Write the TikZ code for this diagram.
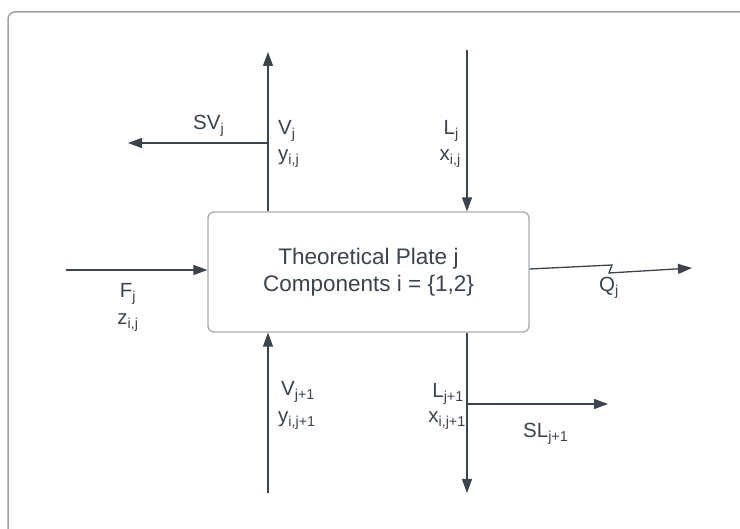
\documentclass[tikz,border=0pt]{standalone}
\usepackage{fontspec}
\setmainfont{Liberation Sans}
\usetikzlibrary{arrows.meta, positioning}
\definecolor{inkgray}{HTML}{3C434B}
\definecolor{boxgray}{HTML}{A9ADB2}
\definecolor{framegray}{HTML}{9EA2A6}

\begin{document}
\begin{tikzpicture}[
    x=1pt, y=-1pt,
    >={Triangle[length=14pt, width=10pt]},
    plate/.style = {rectangle, draw=boxgray, line width=1.3pt, rounded corners=6pt, minimum width=321pt, minimum height=120pt, align=center, text=inkgray, font=\fontsize{22.5}{27}\selectfont},
    lbl/.style = {text=inkgray, font=\fontsize{20.5}{24}\selectfont, inner sep=0pt},
    stream/.style = {draw=inkgray, ->, line width=1.3pt}
]
    \useasboundingbox (0,0) rectangle (740,529);
    \begin{scope}
        \clip (0,0) rectangle (740,529);
        \draw [framegray, line width=1.5pt, rounded corners=7pt] (8,12) rectangle (760,560);
    \end{scope}
    \node [plate] (plate) at (368.5,272) {Theoretical Plate j\\Components i = \{1,2\}};
    \coordinate (vjtop) at (268,52);
    \coordinate (vjtee) at (268,143);
    \coordinate (svend) at (128,143);
    \coordinate (ljtop) at (467,50);
    \coordinate (fin) at (66,270);
    \coordinate (qzigup) at (612,265);
    \coordinate (qzigdown) at (609,273);
    \coordinate (qout) at (692,268);
    \coordinate (vbot) at (268,493);
    \coordinate (lbot) at (467,493);
    \coordinate (sltee) at (467,404);
    \coordinate (slend) at (608,404);
    \draw [stream] (plate.north -| vjtop) -- (vjtop);
    \draw [stream] (vjtee) -- (svend);
    \draw [stream] (ljtop) -- (plate.north -| ljtop);
    \draw [stream] (fin) -- (plate.west |- fin);
    \draw [stream] ([yshift=3pt]plate.east) -- (qzigup) -- (qzigdown) -- (qout);
    \draw [stream] (vbot) -- (plate.south -| vbot);
    \draw [stream] (plate.south -| lbot) -- (lbot);
    \draw [stream] (sltee) -- (slend);
    \node [lbl, anchor=base west] (svlbl) at (193,130) {SV\textsubscript{j}};
    \node [lbl, anchor=base west] (vjlbl) at (278,135) {V\textsubscript{j}};
    \node [lbl, below=26pt of vjlbl.base west, anchor=base west] (yjlbl) {y\textsubscript{i,j}};
    \node [lbl, anchor=base east] (ljlbl) at (459,135) {L\textsubscript{j}};
    \node [lbl, below=26pt of ljlbl.base east, anchor=base east, xshift=2pt] (xjlbl) {x\textsubscript{i,j}};
    \node [lbl, anchor=base] (flbl) at (128,298) {F\textsubscript{j}};
    \node [lbl, below=27pt of flbl.base, anchor=base] (zlbl) {z\textsubscript{i,j}};
    \node [lbl, anchor=base west] (qlbl) at (599,292) {Q\textsubscript{j}};
    \node [lbl, anchor=base west] (vnlbl) at (281,396) {V\textsubscript{j+1}};
    \node [lbl, below=27pt of vnlbl.base west, anchor=base west, xshift=-3pt] (ynlbl) {y\textsubscript{i,j+1}};
    \node [lbl, anchor=base east] (lnlbl) at (464,398) {L\textsubscript{j+1}};
    \node [lbl, below=25pt of lnlbl.base east, anchor=base east, xshift=2pt] (xnlbl) {x\textsubscript{i,j+1}};
    \node [lbl, anchor=base west] (sllbl) at (523,438) {SL\textsubscript{j+1}};
\end{tikzpicture}
\end{document}
